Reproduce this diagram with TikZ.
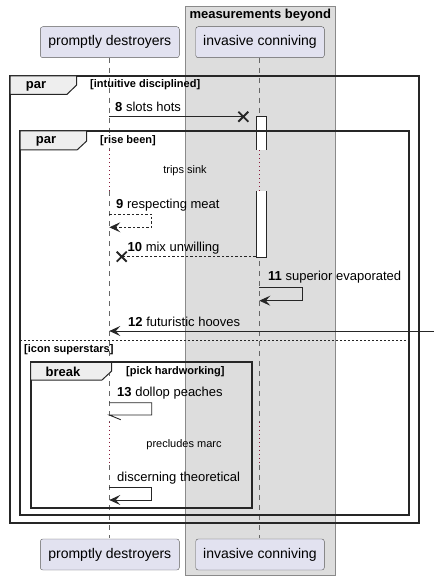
\documentclass[tikz,border=0pt]{standalone}
\usepackage{fontspec}
\setmainfont{Liberation Sans}
\usetikzlibrary{arrows.meta}

\definecolor{partfill}{HTML}{E2E2F0}
\definecolor{partline}{HTML}{5A5A5A}
\definecolor{boxfill}{HTML}{DDDDDD}
\definecolor{boxline}{HTML}{8A8A8A}
\definecolor{tabfill}{HTML}{EEEEEE}
\definecolor{delayred}{HTML}{8B1A3A}

\newcommand{\fsize}[1]{\fontsize{#1}{#1}\selectfont}

\begin{document}
\begin{tikzpicture}[
    x=1pt, y=-1pt,
    >={Stealth[length=11pt,width=10pt,inset=4.5pt]},
    part/.style={
        draw=partline,
        fill=partfill,
        rounded corners=2.5pt,
        minimum width=139pt,
        minimum height=31pt,
        inner sep=0pt,
        font=\fsize{14}
    },
    life/.style={
        draw=gray!80!black,
        dashed,
        dash pattern=on 5pt off 5pt
    },
    delayline/.style={
        draw=delayred,
        dash pattern=on 1pt off 3pt
    },
    frame/.style={
        draw=black!85,
        line width=1.8pt
    },
    tab/.style={
        draw=black!85,
        line width=1pt,
        fill=tabfill
    },
    msg/.style={
        font=\fsize{13},
        anchor=west,
        inner sep=0pt
    },
    guard/.style={
        font=\fsize{11}\bfseries,
        anchor=west,
        inner sep=0pt
    },
    delaytext/.style={
        font=\fsize{11},
        inner sep=0pt
    },
    call/.style={
        draw=black!85,
        line width=0.9pt
    },
    reply/.style={
        draw=black!85,
        line width=0.9pt,
        dash pattern=on 2.5pt off 2pt
    },
    lost/.style={
        draw=black!85,
        line width=1.8pt
    }
]

    % page
    \useasboundingbox (0,0) rectangle (434,580);

    % Box
    \draw[boxline, fill=boxfill] (185.3,6) rectangle (335.3,575);
    \node[font=\fsize{13}\bfseries, inner sep=0pt] (boxtitle) at (260.3,15.5) {measurements beyond};

    % Participants
    \node[part] (pdT) at (109.8,42.2) {promptly destroyers};
    \node[part, minimum width=128.6pt] (icT) at (260,42.2) {invasive conniving};
    \node[part] (pdB) at (109.8,554.5) {promptly destroyers};
    \node[part, minimum width=128.6pt] (icB) at (260,554.5) {invasive conniving};

    % Lifelines
    \foreach \p/\x in {pd/109.3, ic/259.3} {
        \coordinate (\p0) at (\x,57.7);
        \coordinate (\p1) at (\x,150);
        \coordinate (\p2) at (\x,191);
        \coordinate (\p3) at (\x,421.7);
        \coordinate (\p4) at (\x,465);
        \coordinate (\p5) at (\x,538.3);
        \draw[life] (\p0) -- (\p1);
        \draw[delayline] (\p1) -- (\p2);
        \draw[life] (\p2) -- (\p3);
        \draw[delayline] (\p3) -- (\p4);
        \draw[life] (\p4) -- (\p5);
    }

    % Activations
    \draw[black!85, fill=white] (255.7,150) -- (255.7,116.7) -- (265.7,116.7) -- (265.7,150);
    \draw[black!85, fill=white] (255.7,191) -- (255.7,256.7) -- (265.7,256.7) -- (265.7,191);

    % Frame par (outer)
    \draw[frame] (10,76) rectangle (419.3,522.7);
    \draw[tab] (10,76) -- (76.7,76) -- (76.7,85) -- (67,94.3) -- (10,94.3) -- cycle;
    \node[font=\fsize{13}\bfseries, inner sep=0pt] (par1) at (36,86) {par};
    \node[guard] (g1) at (90,85) {[intuitive disciplined]};

    % Message 8
    \coordinate (m8a) at (109.3,116.7);
    \coordinate (m8b) at (243.3,116.7);
    \node[msg] (t8) at (115,107) {\textbf{8} slots hots};
    \draw[call] (m8a) -- (m8b);
    \draw[lost] ([shift={(-5,-5)}]m8b) -- ([shift={(5,5)}]m8b)
                ([shift={(-5,5)}]m8b) -- ([shift={(5,-5)}]m8b);

    % Frame par (inner)
    \draw[frame] (20,131) rectangle (409.3,515);
    \draw[tab] (20,131) -- (86.7,131) -- (86.7,141) -- (77,150) -- (20,150) -- cycle;
    \node[font=\fsize{13}\bfseries, inner sep=0pt] (par2) at (46,141.5) {par};
    \node[guard] (g2) at (100,141) {[rise been]};

    % Delay
    \node[delaytext] (d1) at (185,171) {trips sink};

    % Message 9
    \coordinate (m9a) at (109.3,214.3);
    \coordinate (m9b) at (151.7,214.3);
    \coordinate (m9c) at (151.7,227.3);
    \coordinate (m9d) at (109.3,227.3);
    \node[msg] (t9) at (116,205) {\textbf{9} respecting meat};
    \draw[reply, ->] (m9a) -- (m9b) -- (m9c) -- (m9d);

    % Message 10
    \coordinate (m10a) at (255.7,256.7);
    \coordinate (m10b) at (121.7,256.7);
    \node[msg] (t10) at (127.5,248) {\textbf{10} mix unwilling};
    \draw[reply] (m10a) -- (m10b);
    \draw[lost] ([shift={(-5,-5)}]m10b) -- ([shift={(5,5)}]m10b)
                ([shift={(-5,5)}]m10b) -- ([shift={(5,-5)}]m10b);

    % Message 11
    \coordinate (m11a) at (259.3,287.3);
    \coordinate (m11b) at (302.7,287.3);
    \coordinate (m11c) at (302.7,300.7);
    \coordinate (m11d) at (259.3,300.7);
    \node[msg] (t11) at (268,277.5) {\textbf{11} superior evaporated};
    \draw[call, ->] (m11a) -- (m11b) -- (m11c) -- (m11d);

    % Message 12
    \coordinate (m12a) at (434,331);
    \coordinate (m12b) at (109.3,331);
    \node[msg] (t12) at (128,321.5) {\textbf{12} futuristic hooves};
    \draw[call, ->] (m12a) -- (m12b);

    % Else
    \draw[black!85, dash pattern=on 2pt off 2pt] (20,340.3) -- (409.3,340.3);
    \node[guard] (g3) at (24,349.3) {[icon superstars]};

    % Frame break
    \draw[frame] (30.7,362.3) rectangle (251.7,508.3);
    \draw[tab] (30.7,362.3) -- (111.7,362.3) -- (111.7,371) -- (102,380) -- (30.7,380) -- cycle;
    \node[font=\fsize{13}\bfseries, inner sep=0pt] (brk) at (63,372) {break};
    \node[guard] (g4) at (126,371.5) {[pick hardworking]};

    % Message 13
    \coordinate (m13a) at (109.3,402.7);
    \coordinate (m13b) at (151.7,402.7);
    \coordinate (m13c) at (151.7,415);
    \coordinate (m13d) at (109.3,415);
    \coordinate (m13e) at (120.7,419.7);
    \node[msg] (t13) at (117,393.5) {\textbf{13} dollop peaches};
    \draw[call] (m13a) -- (m13b) -- (m13c) -- (m13d) -- (m13e);

    % Delay
    \node[delaytext] (d2) at (184,445) {precludes marc};

    % Message discerning
    \coordinate (m14a) at (109.3,487.7);
    \coordinate (m14b) at (151.7,487.7);
    \coordinate (m14c) at (151.7,500);
    \coordinate (m14d) at (109.3,500);
    \node[msg] (t14) at (117,478.5) {discerning theoretical};
    \draw[call, ->] (m14a) -- (m14b) -- (m14c) -- (m14d);

\end{tikzpicture}
\end{document}
